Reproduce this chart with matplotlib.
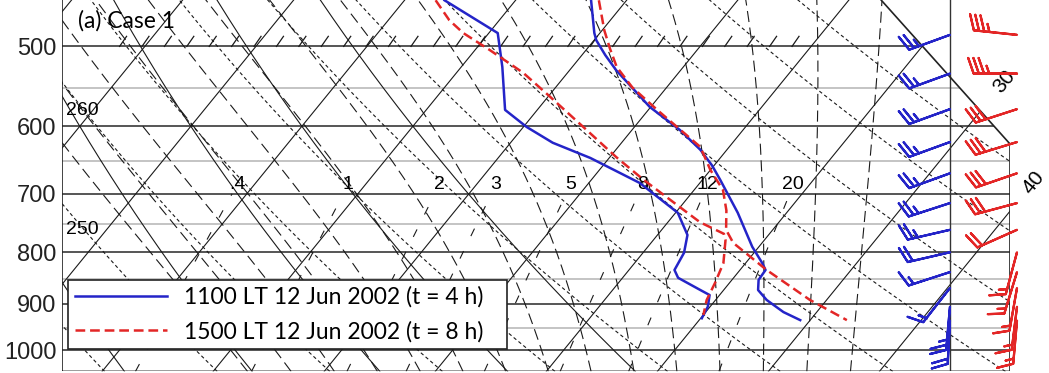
import numpy as np
import matplotlib.pyplot as plt
from matplotlib.patches import Polygon

plt.rcParams['lines.scale_dashes'] = False
plt.rcParams['font.family'] = ['Liberation Sans', 'DejaVu Sans']

# 1100 LT 12 Jun 2002 (t = 4 h): temperature / dew point (hPa, degC)
p_t1 = [450, 485, 493, 510, 528, 574, 605, 633, 656, 678, 731, 790, 820, 833, 852, 872, 892, 917, 934]
t_t1 = [-13.2, -10.5, -9.8, -7.9, -5.8, -0.1, 4.3, 7.6, 9.8, 11.6, 15.6, 19.4, 21.5, 22.3, 22.4, 23.1, 24.6, 27.0, 29.1]
p_td1 = [450, 485, 524, 578, 601, 623, 645, 683, 731, 769, 801, 833, 848, 872, 882, 906, 930]
td1 = [-26.4, -19.2, -16.3, -12.9, -9.7, -6.2, -1.7, 4.6, 10.2, 12.7, 13.7, 14.1, 15.0, 17.9, 19.1, 19.8, 20.1]

# 1500 LT 12 Jun 2002 (t = 8 h)
p_t2 = [450, 482, 502, 524, 549, 578, 629, 663, 694, 727, 760, 783, 833, 892, 934]
t_t2 = [-12.5, -9.8, -8.0, -6.0, -3.1, 0.8, 7.4, 10.0, 12.6, 14.4, 15.8, 17.4, 22.4, 28.5, 33.3]
p_td2 = [450, 471, 485, 504, 531, 561, 601, 644, 678, 747, 767, 778, 820, 858, 892, 923]
td2 = [-27.2, -24.5, -22.3, -18.7, -14.0, -9.8, -4.6, 0.6, 4.7, 12.9, 15.9, 16.5, 18.0, 18.7, 19.2, 20.0]

# winds: direction (deg, from) and speed (kt)
p_w = [487, 532, 577, 622, 668, 715, 760, 800, 837, 868, 906, 935]
wdir1 = [250, 250, 250, 250, 250, 252, 257, 257, 252, 218, 185, 183]
wspd1 = [25, 25, 25, 25, 25, 25, 25, 20, 15, 15, 25, 20]
wdir2 = [276, 270, 252, 253, 251, 255, 246, 195, 197, 190, 187, 185]
wspd2 = [35, 35, 30, 30, 30, 30, 20, 15, 15, 15, 15, 15]

labels = ['1100 LT 12 Jun 2002 (t = 4 h)', '1500 LT 12 Jun 2002 (t = 8 h)']
blue = '#2424c8'
red = '#e32626'


# skew-T coordinates
def ycoord(p):
    return 132.182 - 44.061 * np.log10(p)


def xcoord(t, p):
    return 0.54 * np.asarray(t) + 0.90692 * ycoord(np.asarray(p, dtype=float))


xmin, xmax = -19.0, 27.1
ybot = ycoord(1050.)
ytop = 15.29

fig = plt.figure(figsize=(10.49, 3.73), dpi=100)
ax = fig.add_axes([62 / 1049, 1 - 371.4 / 373, 948 / 1049, 371.4 / 373])
ax.set_xlim(xmin, xmax)
ax.set_ylim(ybot, ytop)
for s in ax.spines.values():
    s.set_visible(False)

frame = Polygon([(xmin, ybot), (xmax, ybot), (xmax, 9.0), (18.6, 17.53), (xmin, 44.061)],
                closed=True, fill=False, edgecolor='#222222', lw=1.2, zorder=5)
ax.add_patch(frame)

pp = np.linspace(1050, 400, 651)
yy = ycoord(pp)

# isobars
for p in range(500, 1001, 100):
    ax.plot([xmin, xmax], [ycoord(p)] * 2, color='#555555', lw=1.4, clip_path=frame, zorder=1)
for p in range(550, 1000, 100):
    ax.plot([xmin, xmax], [ycoord(p)] * 2, color='#c4c4c4', lw=1.4, clip_path=frame, zorder=1)

# isotherms
for t in range(-100, 50, 10):
    ax.plot(xcoord(t, pp), yy, color='#1a1a1a', lw=0.8, clip_path=frame, zorder=2)

# cross lines of the grid
for t6 in [-80, -70, -60, -50, -40, -30, -20]:
    t0 = (t6 + 273.15) * (1000 / 600.) ** 0.25
    ax.plot(xcoord(t0 * (pp / 1000.) ** 0.25 - 273.15, pp), yy, color='#1a1a1a', lw=0.8,
            clip_path=frame, zorder=2)

# dry adiabats
for th in range(240, 460, 10):
    tt = th * (pp / 1000.) ** 0.2857 - 273.15
    ax.plot(xcoord(tt, pp), yy, color='#1a1a1a', lw=0.8, dashes=(2.5, 2), clip_path=frame, zorder=2)
for th in [250, 260]:
    tt = th * (pp / 1000.) ** 0.2857 - 273.15
    xx = xcoord(tt, pp)
    ylab = np.interp(xmin + 1.07, xx[::-1], yy[::-1])
    ax.text(xmin + 0.2, ylab, str(th), fontsize=14, ha='left', va='center', zorder=4)


# moist adiabats
def dtdp(t, p):
    tk = t + 273.15
    es = 6.112 * np.exp(17.67 * t / (t + 243.5))
    rs = 0.622 * es / (p - es)
    num = 287.04 * tk + 2.5e6 * rs
    den = 1005.7 + 2.5e6 ** 2 * rs * 0.622 / (287.04 * tk ** 2)
    return num / den / p


pm = np.arange(1050., 399., -1.)
i1000 = int(np.where(pm == 1000.)[0][0])
for tw in range(-20, 40, 4):
    tm = np.zeros_like(pm)
    tm[i1000] = tw
    for i in range(i1000, len(pm) - 1):
        tm[i + 1] = tm[i] + dtdp(tm[i], pm[i]) * (pm[i + 1] - pm[i])
    for i in range(i1000, 0, -1):
        tm[i - 1] = tm[i] + dtdp(tm[i], pm[i]) * (pm[i - 1] - pm[i])
    ax.plot(xcoord(tm, pm), ycoord(pm), color='#1a1a1a', lw=0.8, dashes=(8, 4),
            clip_path=frame, zorder=2)

# mixing ratio lines
w_vals = [0.4, 1, 2, 3, 5, 8, 12, 20]
w_text = ['.4', '1', '2', '3', '5', '8', '12', '20']
pw = np.linspace(1050, 700, 100)
for w, lab in zip(w_vals, w_text):
    e = w * pw / (622. + w)
    td = 243.5 * np.log(e / 6.112) / (17.67 - np.log(e / 6.112))
    ax.plot(xcoord(td, pw), ycoord(pw), color='#1a1a1a', lw=0.8, dashes=(6, 12),
            clip_path=frame, zorder=2)
    e_l = w * 686. / (622. + w)
    td_l = 243.5 * np.log(e_l / 6.112) / (17.67 - np.log(e_l / 6.112))
    ax.text(xcoord(td_l, 686.), ycoord(686.), lab, fontsize=14, ha='center', va='center', zorder=4)

# isotherm labels beyond the frame
for t, (xe, ye) in zip([30, 40], [(25.67, 10.44), (27.1, 6.06)]):
    ax.text(xe + 1.15, ye + 1.27, str(t), fontsize=15, rotation=51, ha='center', va='center',
            clip_on=False, zorder=4)

# hatch marks above the 500 hPa line
y500 = ycoord(500.)
for xh in np.arange(-16.2, 16.8, 1.09):
    ax.plot([xh, xh + 0.34], [y500, y500 + 0.44], color='#1a1a1a', lw=0.9, zorder=2)

# wind column line
ax.plot([24.18, 24.18], [ybot, ytop], color='#333333', lw=1.0, zorder=2)

# soundings
ax.plot(xcoord(t_t1, p_t1), ycoord(np.array(p_t1, float)), color=blue, lw=1.8, zorder=6, label=labels[0])
ax.plot(xcoord(td1, p_td1), ycoord(np.array(p_td1, float)), color=blue, lw=1.8, zorder=6)
ax.plot(xcoord(t_t2, p_t2), ycoord(np.array(p_t2, float)), color=red, lw=1.8, dashes=(7, 3.5),
        zorder=6, label=labels[1])
ax.plot(xcoord(td2, p_td2), ycoord(np.array(p_td2, float)), color=red, lw=1.8, dashes=(7, 3.5), zorder=6)

# wind barbs
yw = ycoord(np.array(p_w, float))
for xb, wdir, wspd, c in [(24.18, wdir1, wspd1, blue), (27.44, wdir2, wspd2, red)]:
    d = np.deg2rad(wdir)
    u = -np.array(wspd) * np.sin(d)
    v = -np.array(wspd) * np.cos(d)
    ax.barbs(np.full(len(p_w), xb), yw, u, v, length=7.9, color=c, linewidth=1.6,
             sizes=dict(spacing=0.12, height=0.36), clip_on=False, zorder=7)

# axes labels
pt = [500, 600, 700, 800, 900, 1000]
ax.set_yticks(ycoord(np.array(pt, float)))
ax.set_yticklabels([str(p) for p in pt], fontsize=17, color='#222222')
ax.tick_params(axis='y', length=0, pad=4)
ax.set_xticks([])

ax.text(0.017, 0.972, '(a) Case 1', transform=ax.transAxes, fontsize=16.5, family=['Lato', 'DejaVu Sans'],
        ha='left', va='top', zorder=8)

leg = ax.legend(loc='lower left', bbox_to_anchor=(0.0063, 0.0603, 0.4633, 0.2181), mode='expand',
                borderaxespad=0, fancybox=False, framealpha=1, edgecolor='#222222',
                prop=dict(family=['Lato', 'DejaVu Sans'], size=16.5), handlelength=4.0,
                handletextpad=0.75, labelspacing=0.55, borderpad=0.3)
leg.get_frame().set_linewidth(1.2)
leg.set_zorder(9)

fig.savefig('out.png', dpi=100)
